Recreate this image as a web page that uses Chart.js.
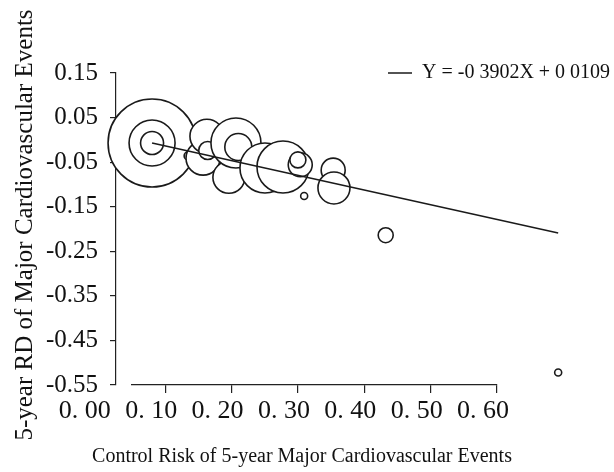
<!DOCTYPE html>
<html>
<head>
<meta charset="utf-8">
<script src="https://cdn.jsdelivr.net/npm/chart.js@4"></script>
<style>
  html, body { margin: 0; padding: 0; background: #fff; }
  canvas { display: block; }
</style>
</head>
<body>
<canvas id="chart" width="614" height="472"></canvas>
<script>
// control risk (x), 5-year risk difference (y), bubble size (study weight)
const controlRisk = [0.046, 0.046, 0.046, 0.092, 0.111, 0.116, 0.117, 0.144, 0.153, 0.156,
                     0.190, 0.213, 0.235, 0.232, 0.240, 0.277, 0.278, 0.344, 0.564];
const riskDifference = [-0.007, -0.007, -0.007, -0.036, -0.041, 0.008, -0.024, -0.084, -0.007, -0.016,
                        -0.063, -0.061, -0.056, -0.045, -0.126, -0.068, -0.108, -0.214, -0.522];
const bubbleSize = [44, 23, 11.5, 4, 17, 17, 9, 16, 25, 13.5,
                    25, 26, 12, 8, 3.5, 12, 16, 7.5, 3.5];

const fitSlope = -0.3902;
const fitIntercept = 0.0109;
const fitLabel = 'Y = -0 3902X + 0 0109';

const yTickValues = [0.15, 0.05, -0.05, -0.15, -0.25, -0.35, -0.45, -0.55];
const xTickValues = [0, 0.1, 0.2, 0.3, 0.4, 0.5, 0.6];
const xTickLabels = ['0. 00', '0. 10', '0. 20', '0. 30', '0. 40', '0. 50', '0. 60'];

const serif = "'Liberation Serif', 'Times New Roman', serif";
const ink = '#111';
const pxPerUnit = 784;   // horizontal data scale of the original figure

const bubblePoints = controlRisk.map((x, i) => ({ x: x, y: riskDifference[i], r: bubbleSize[i] }));
const xLo = Math.min(...controlRisk);
const xHi = Math.max(...controlRisk);
const fitPoints = [
    { x: xLo, y: fitSlope * xLo + fitIntercept },
    { x: xHi, y: fitSlope * xHi + fitIntercept }
];

// the original figure's tick axis and legend sit apart from the data area
const axisLayout = {
    id: 'axisLayout',
    afterLayout(chart) {
        const area = chart.chartArea;
        const xs = chart.scales.x;
        xs.min = 0;
        xs.max = (area.right - area.left) / pxPerUnit;
        xs.configure();

        const xt = chart.scales.xt;
        xt.left = 132;
        xt.right = 497;
        xt.width = xt.right - xt.left;
        xt.configure();
        xt._gridLineItems = null;
        xt._labelItems = null;

        const lg = chart.legend;
        const w = lg.right - lg.left;
        const h = lg.bottom - lg.top;
        lg.left = 384;
        lg.right = lg.left + Math.max(w, 230);
        lg.top = 59;
        lg.bottom = lg.top + h;
    }
};

new Chart(document.getElementById('chart'), {
    type: 'bubble',
    data: {
        datasets: [
            {
                type: 'line',
                label: fitLabel,
                data: fitPoints,
                borderColor: '#1a1a1a',
                borderWidth: 1.5,
                pointRadius: 0,
                pointStyle: 'line',
                clip: false,
                order: 0
            },
            {
                type: 'bubble',
                label: 'studies',
                data: bubblePoints,
                backgroundColor: '#fff',
                borderColor: '#1a1a1a',
                borderWidth: 1.6,
                hoverRadius: 0,
                clip: false,
                order: 1
            }
        ]
    },
    options: {
        responsive: false,
        animation: false,
        events: [],
        layout: { padding: { top: 0, right: 10, bottom: 22, left: 0 } },
        scales: {
            x: {
                type: 'linear',
                display: false,
                min: 0,
                max: 0.6
            },
            xtop: {
                type: 'linear',
                position: 'top',
                ticks: { display: false },
                grid: { display: false },
                border: { display: false },
                afterFit: s => { s.height = 73; }
            },
            xt: {
                type: 'linear',
                position: 'bottom',
                min: 0.05,
                max: 0.6,
                afterBuildTicks: s => { s.ticks = xTickValues.map(v => ({ value: v })); },
                afterFit: s => { s.height = 56; s.paddingLeft = 0; s.paddingRight = 0; },
                grid: {
                    drawOnChartArea: false,
                    tickLength: 8,
                    lineWidth: 1.2,
                    tickColor: c => (c.tick && c.tick.value === 0 ? 'rgba(0,0,0,0)' : '#222')
                },
                border: { color: '#222', width: 1.2 },
                ticks: {
                    autoSkip: false,
                    maxRotation: 0,
                    minRotation: 0,
                    labelOffset: -14,
                    padding: 3,
                    color: ink,
                    font: { family: serif, size: 26 },
                    callback: (v, i) => xTickLabels[i]
                }
            },
            y: {
                type: 'linear',
                position: 'left',
                min: -0.55,
                max: 0.15,
                afterBuildTicks: s => { s.ticks = yTickValues.map(v => ({ value: v })); },
                afterFit: s => { s.width = 74; },
                grid: { drawOnChartArea: false, tickLength: 6, color: '#222', lineWidth: 1.2 },
                border: { color: '#222', width: 1.2 },
                ticks: {
                    padding: 12,
                    color: ink,
                    font: { family: serif, size: 25 },
                    callback: v => v.toFixed(2)
                }
            }
        },
        plugins: {
            title: {
                display: true,
                position: 'left',
                text: '5-year RD of Major Cardiovascular Events',
                color: ink,
                font: { family: serif, size: 25, weight: 'normal' },
                padding: { top: 10, bottom: 2 }
            },
            subtitle: {
                display: true,
                position: 'bottom',
                text: 'Control Risk of 5-year Major Cardiovascular Events',
                color: ink,
                font: { family: serif, size: 20, weight: 'normal' },
                padding: { top: 4, bottom: -19 }
            },
            legend: {
                position: 'chartArea',
                align: 'start',
                labels: {
                    usePointStyle: true,
                    pointStyleWidth: 24,
                    padding: 4,
                    color: ink,
                    font: { family: serif, size: 20 },
                    filter: item => item.datasetIndex === 0
                }
            },
            tooltip: { enabled: false }
        }
    },
    plugins: [axisLayout]
});
</script>
</body>
</html>
